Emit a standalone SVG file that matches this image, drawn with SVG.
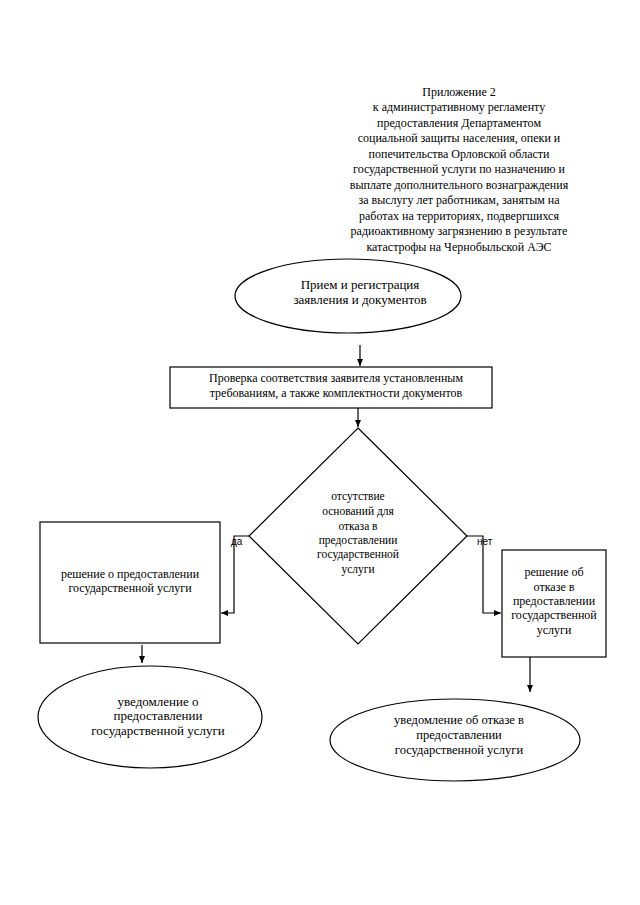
<svg xmlns="http://www.w3.org/2000/svg" width="640" height="905" viewBox="0 0 640 905">
<defs>
<marker id="ah" markerWidth="8" markerHeight="8" refX="7" refY="4" orient="auto" markerUnits="userSpaceOnUse">
<path d="M0,1 L7,4 L0,7 z" fill="#000"/>
</marker>
<style>
.s{fill:#fff;stroke:#000;stroke-width:1.2}
.t{font-family:"Liberation Serif","Times New Roman",serif;font-size:12px;fill:#000;text-anchor:middle}
.e{font-size:13px}
.d{font-size:11.5px}
.b{font-size:13px}
.r{font-size:12.5px}
.h{font-family:"Liberation Serif","Times New Roman",serif;font-size:12px;fill:#000;text-anchor:middle}
.l{font-family:"Liberation Sans",Arial,sans-serif;font-size:10px;fill:#000}
.c{fill:none;stroke:#000;stroke-width:1.2;marker-end:url(#ah)}
</style>
</defs>
<rect width="640" height="905" fill="#fff"/>
<g id="header">
<text class="h" x="459" y="96">Приложение 2</text>
<text class="h" x="459" y="111">к административному регламенту</text>
<text class="h" x="459" y="127">предоставления Департаментом</text>
<text class="h" x="459" y="142">социальной защиты населения, опеки и</text>
<text class="h" x="459" y="158">попечительства Орловской области</text>
<text class="h" x="459" y="173">государственной услуги по назначению и</text>
<text class="h" x="459" y="189">выплате дополнительного вознаграждения</text>
<text class="h" x="459" y="204">за выслугу лет работникам, занятым на</text>
<text class="h" x="459" y="220">работах на территориях, подвергшихся</text>
<text class="h" x="459" y="235">радиоактивному загрязнению в результате</text>
<text class="h" x="459" y="251">катастрофы на Чернобыльской АЭС</text>
</g>
<g id="n1">
<ellipse class="s" cx="348" cy="296" rx="113" ry="37"/>
<text class="t e" x="360" y="289">Прием и регистрация</text>
<text class="t e" x="360" y="304">заявления и документов</text>
</g>
<g id="n2">
<rect class="s" x="170" y="367" width="322" height="41"/>
<text class="t" x="336" y="382">Проверка соответствия заявителя установленным</text>
<text class="t" x="336" y="397">требованиям, а также комплектности документов</text>
</g>
<g id="n3">
<polygon class="s" points="358,428 467,536 358,644 249,536"/>
<text class="t d" x="358" y="500">отсутствие</text>
<text class="t d" x="358" y="515">оснований для</text>
<text class="t d" x="358" y="530">отказа в</text>
<text class="t d" x="358" y="544">предоставлении</text>
<text class="t d" x="358" y="558">государственной</text>
<text class="t d" x="358" y="573">услуги</text>
</g>
<g id="n4">
<rect class="s" x="40" y="522" width="180" height="121"/>
<text class="t" x="130" y="578">решение о предоставлении</text>
<text class="t" x="130" y="592">государственной услуги</text>
</g>
<g id="n5">
<rect class="s" x="502" y="550" width="104" height="107"/>
<text class="t" x="554" y="576">решение об</text>
<text class="t" x="554" y="591">отказе в</text>
<text class="t" x="554" y="605">предоставлении</text>
<text class="t" x="554" y="619">государственной</text>
<text class="t" x="554" y="634">услуги</text>
</g>
<g id="n6">
<ellipse class="s" cx="150" cy="717" rx="112" ry="51"/>
<text class="t b" x="158" y="706">уведомление о</text>
<text class="t b" x="158" y="720">предоставлении</text>
<text class="t b" x="158" y="735">государственной услуги</text>
</g>
<g id="n7">
<ellipse class="s" cx="455" cy="740" rx="125" ry="41"/>
<text class="t r" x="459" y="724">уведомление об отказе в</text>
<text class="t r" x="459" y="739">предоставлении</text>
<text class="t r" x="459" y="754">государственной услуги</text>
</g>
<g id="connectors">
<path class="c" d="M360,345 L360,366"/>
<path class="c" d="M358,408 L358,427"/>
<path class="c" d="M249,536 L234,536 L234,613 L221,613"/>
<path class="c" d="M467,536 L483,536 L483,613 L501,613"/>
<path class="c" d="M142,645 L142,663"/>
<path class="c" d="M530,657 L530,692"/>
<text class="l" x="231" y="545">да</text>
<text class="l" x="477" y="545">нет</text>
</g>
</svg>
